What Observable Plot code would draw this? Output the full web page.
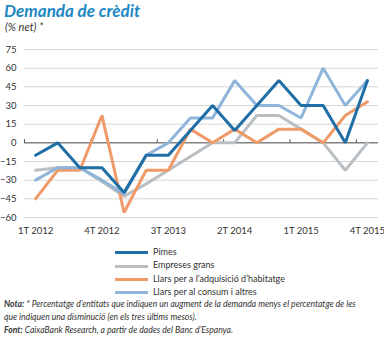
<!DOCTYPE html>
<html><head><meta charset="utf-8">
<script src="https://cdn.jsdelivr.net/npm/d3@7"></script>
<script src="https://cdn.jsdelivr.net/npm/@observablehq/plot@0.6"></script>
<style>
body{margin:0;background:#fff;width:384px;height:338px;position:relative;overflow:hidden;font-family:Lato,"Open Sans",sans-serif;color:#333;}
.abs{position:absolute;white-space:nowrap;}
#title{left:4px;top:0px;font-size:17px;font-weight:bold;font-style:italic;color:#1d88c4;}
#sub{left:5px;top:20px;font-size:11px;font-style:italic;color:#333;}
#chart{left:0;top:40px;}
.leg{left:115px;font-size:9px;height:13px;line-height:13px;}
.sw{display:inline-block;width:33px;height:3px;vertical-align:middle;margin-right:5px;}
.note{left:4px;font-size:8.6px;font-style:italic;line-height:13px;}
</style></head><body>
<div id="title" class="abs">Demanda de crèdit</div>
<div id="sub" class="abs">(% net) *</div>
<div id="chart" class="abs"></div>
<div id="legend"></div>
<div class="abs note" style="top:298px"><b>Nota:</b> * Percentatge d’entitats que indiquen un augment de la demanda menys el percentatge de les</div>
<div class="abs note" style="top:311px">que indiquen una disminució (en els tres últims mesos).</div>
<div class="abs note" style="top:324px"><b>Font:</b> CaixaBank Research, a partir de dades del Banc d’Espanya.</div>
<script>
const quarters = ["1T 2012","2T 2012","3T 2012","4T 2012","1T 2013","2T 2013","3T 2013","4T 2013","1T 2014","2T 2014","3T 2014","4T 2014","1T 2015","2T 2015","3T 2015","4T 2015"];
const labelIdx = [0,3,6,9,12,15];
const yTicks = [-60,-45,-30,-15,0,15,30,45,60,75];
const pimes     = [-10, 0, -20, -20, -40, -10, -10, 10, 30, 10, 30, 50, 30, 30, 0, 50];
const empreses  = [-22, -20, -20, -31, -43, -33, -22, -11, 0, 0, 22, 22, 11, 0, -22, 0];
const habitatge = [-45, -22, -22, 22, -56, -22, -22, 11, 0, 11, 0, 11, 11, 0, 22, 33];
const consum    = [-30, -20, -20, -30, -41, -10, 0, 20, 20, 50, 30, 30, 20, 60, 30, 50];
const seriesNames = ["Pimes","Empreses grans","Llars per a l’adquisició d’habitatge","Llars per al consum i altres"];
const seriesColors = ["#1f6ea6","#b9bfc3","#ef9a68","#8fb5da"];
const seriesVals = [pimes, empreses, habitatge, consum];
const drawOrder = [1,2,3,0];

const data = [];
for (const s of drawOrder) seriesVals[s].forEach((v,i)=>data.push({i, v, s: seriesNames[s]}));
const boundaries = [-0.5,2.5,5.5,8.5,11.5,14.5];

const chart = Plot.plot({
  width: 384, height: 200,
  marginTop: 9, marginBottom: 23, marginLeft: 24, marginRight: 6,
  style: {fontFamily: "Lato, 'Open Sans', sans-serif", fontSize: "9.5px", color: "#333", background: "transparent"},
  x: {domain: [-0.5, 15.5]},
  y: {domain: [-60, 75]},
  color: {domain: seriesNames, range: seriesColors},
  marks: [
    Plot.gridY(yTicks, {stroke: "#d6d6d6", strokeOpacity: 1}),
    Plot.axisY(yTicks, {tickSize: 0, tickPadding: 8, label: null}),
    Plot.axisX(labelIdx, {tickSize: 0, tickPadding: 10, label: null, tickFormat: d => quarters[d]}),
    Plot.ruleY([0], {stroke: "#555", strokeWidth: 1}),
    Plot.ruleX(boundaries, {y1: 0, y2: 2.5, stroke: "#555"}),
    Plot.line(data, {x: "i", y: "v", z: "s", stroke: "s", strokeWidth: 3, strokeLinejoin: "miter", curve: "linear"})
  ]
});
document.getElementById("chart").appendChild(chart);

const leg = document.getElementById("legend");
seriesNames.forEach((n,k)=>{
  const d = document.createElement("div");
  d.className = "abs leg";
  d.style.top = (245 + k*13.3) + "px";
  d.innerHTML = `<span class="sw" style="background:${seriesColors[k]}"></span>${n}`;
  leg.appendChild(d);
});
</script>
</body></html>
